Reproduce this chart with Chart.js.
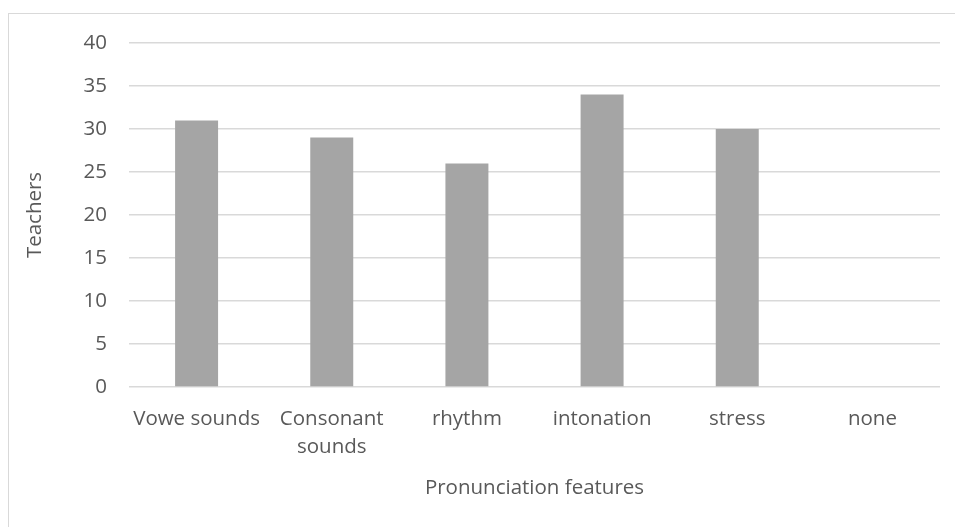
<!DOCTYPE html>
<html>
<head>
<meta charset="utf-8">
<script src="https://cdn.jsdelivr.net/npm/chart.js@4"></script>
<style>
  html, body { margin: 0; padding: 0; background: #fff; }
  #wrap { position: relative; width: 955px; height: 527px; overflow: hidden; }
  #frame { position: absolute; left: 8px; top: 13px; width: 1000px; height: 600px;
           border-left: 1px solid #d9d9d9; border-top: 1px solid #d9d9d9; box-sizing: border-box; }
  canvas { position: absolute; left: 0; top: 0; }
</style>
</head>
<body>
<div id="wrap">
  <div id="frame"></div>
  <canvas id="c" width="955" height="527"></canvas>
</div>
<script>
// Pronunciation features chosen by teachers
const categories = ['Vowe sounds', ['Consonant', 'sounds'], 'rhythm', 'intonation', 'stress', 'none'];
const teachers = [31, 29, 26, 34, 30, 0];
const yTicks = [0, 5, 10, 15, 20, 25, 30, 35, 40];

const textColor = '#595959';
const font = { family: '"Open Sans", sans-serif', size: 20.5 };
const catFont = { family: '"Open Sans", sans-serif', size: 20.5, lineHeight: 28 / 20.5 };

new Chart(document.getElementById('c'), {
  type: 'bar',
  data: {
    labels: categories,
    datasets: [{
      label: 'Teachers',
      data: teachers,
      backgroundColor: '#a5a5a5',
      borderWidth: 0,
      barPercentage: 0.53,
      categoryPercentage: 0.6
    }]
  },
  options: {
    responsive: false,
    animation: false,
    layout: { padding: { top: 43, right: 15, left: 0, bottom: 0 } },
    plugins: { legend: { display: false }, tooltip: { enabled: false } },
    scales: {
      x: {
        grid: { display: false, drawTicks: false },
        border: { display: false },
        ticks: { color: textColor, font: catFont, maxRotation: 0, autoSkip: false, padding: 18 },
        title: { display: true, text: 'Pronunciation features', color: textColor, font: font, padding: { top: 10, bottom: 27 } },
        afterFit: (s) => { s.height = 140; }
      },
      y: {
        min: 0,
        max: 40,
        afterBuildTicks: (s) => { s.ticks = yTicks.map(v => ({ value: v })); },
        grid: { color: '#d9d9d9', lineWidth: 1.5, drawTicks: false },
        border: { display: false },
        ticks: { color: textColor, font: font, padding: 22 },
        title: { display: true, text: 'Teachers', color: textColor, font: font, padding: { top: 23, bottom: 0 } },
        afterFit: (s) => { s.width = 129; }
      }
    }
  }
});
</script>
</body>
</html>
